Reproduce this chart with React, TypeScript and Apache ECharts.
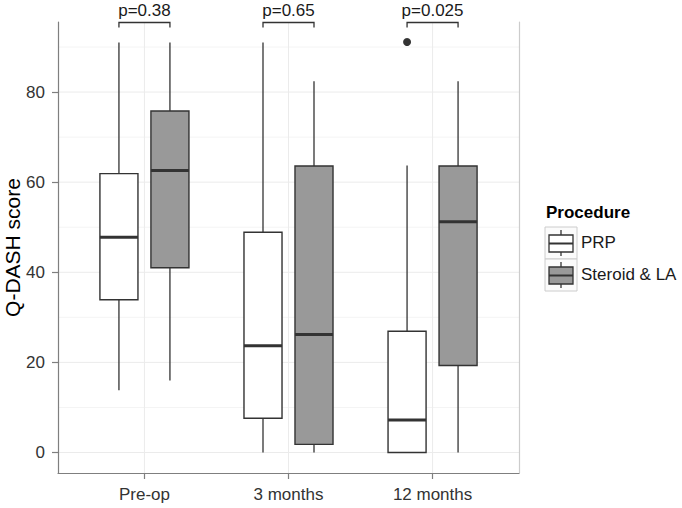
import React, { useEffect, useRef } from 'react';
import * as echarts from 'echarts';

// ---- data ----
const categories = ['Pre-op', '3 months', '12 months'];
const groups = ['PRP', 'Steroid & LA'];
// [lower whisker, Q1, median, Q3, upper whisker]
const prpStats = [
  [13.8, 33.9, 47.8, 61.9, 91.0],
  [0, 7.6, 23.7, 48.9, 91.0],
  [0, 0, 7.2, 26.9, 63.7],
];
const steroidStats = [
  [16.0, 41.0, 62.6, 75.8, 91.0],
  [0, 1.8, 26.2, 63.6, 82.4],
  [0, 19.3, 51.2, 63.6, 82.4],
];
// [category index, value]
const prpOutliers = [[2, 91.1]];
const pLabels = ['p=0.38', 'p=0.65', 'p=0.025'];
const yTicks = [0, 20, 40, 60, 80];
const yMinorTicks = [10, 30, 50, 70, 90];
const yRange = [-4.55, 95.55];
const xRange = [0.4, 3.6];

// ---- style / layout ----
const FONT = 'Liberation Sans, Arial, Helvetica, sans-serif';
const DODGE = 0.177;
const HALF_BOX = 0.132;
const fills = ['#ffffff', '#999999'];
const LINE = '#333333';

function hLine(values: number[], color: string): any {
  return {
    type: 'custom',
    silent: true,
    z: 0,
    data: values.map((v) => [xRange[0], v]),
    renderItem: (params: any, api: any) => {
      const v = api.value(1);
      const a = api.coord([xRange[0], v]);
      const b = api.coord([xRange[1], v]);
      return { type: 'line', shape: { x1: a[0], y1: a[1], x2: b[0], y2: b[1] }, style: { stroke: color, lineWidth: 1 } };
    },
  };
}

function gridSeries(): any[] {
  return [
    hLine(yMinorTicks, '#f4f4f4'),
    hLine(yTicks, '#ebebeb'),
    {
      type: 'custom',
      silent: true,
      z: 0,
      data: categories.map((c, i) => [i + 1, yRange[0]]),
      renderItem: (params: any, api: any) => {
        const x = api.value(0);
        const a = api.coord([x, yRange[0]]);
        const b = api.coord([x, yRange[1]]);
        return { type: 'line', shape: { x1: a[0], y1: a[1], x2: b[0], y2: b[1] }, style: { stroke: '#ebebeb', lineWidth: 1 } };
      },
    },
  ];
}

function boxSeries(name: string, stats: number[][], dodge: number, fill: string): any {
  return {
    type: 'custom',
    name,
    z: 2,
    data: stats.map((s, i) => [i + 1, ...s]),
    encode: { x: 0, y: [1, 2, 3, 4, 5] },
    renderItem: (params: any, api: any) => {
      const x = api.value(0) + dodge;
      const lo = api.value(1), q1 = api.value(2), med = api.value(3), q3 = api.value(4), hi = api.value(5);
      const pLo = api.coord([x, lo]);
      const pQ1 = api.coord([x, q1]);
      const pMed = api.coord([x, med]);
      const pQ3 = api.coord([x, q3]);
      const pHi = api.coord([x, hi]);
      const hw = api.size([HALF_BOX, 0])[0];
      const cx = pMed[0];
      return {
        type: 'group',
        children: [
          { type: 'line', shape: { x1: cx, y1: pHi[1], x2: cx, y2: pQ3[1] }, style: { stroke: LINE, lineWidth: 1.3 } },
          { type: 'line', shape: { x1: cx, y1: pQ1[1], x2: cx, y2: pLo[1] }, style: { stroke: LINE, lineWidth: 1.3 } },
          { type: 'rect', shape: { x: cx - hw, y: pQ3[1], width: 2 * hw, height: pQ1[1] - pQ3[1] }, style: { fill, stroke: LINE, lineWidth: 1.4 } },
          { type: 'line', shape: { x1: cx - hw, y1: pMed[1], x2: cx + hw, y2: pMed[1] }, style: { stroke: LINE, lineWidth: 3 } },
        ],
      };
    },
  };
}

function bracketSeries(): any {
  return {
    type: 'custom',
    silent: true,
    z: 3,
    clip: false,
    data: categories.map((c, i) => [i + 1, yRange[1]]),
    renderItem: (params: any, api: any) => {
      const x = api.value(0);
      const top = params.coordSys.y;
      const l = api.coord([x - DODGE, yRange[1]])[0];
      const r = api.coord([x + DODGE, yRange[1]])[0];
      return {
        type: 'group',
        children: [
          { type: 'polyline', shape: { points: [[l, top + 5.5], [l, top + 0.5], [r, top + 0.5], [r, top + 5.5]] }, style: { stroke: LINE, lineWidth: 1.3, fill: 'none' } },
          {
            type: 'text',
            style: {
              text: pLabels[params.dataIndex],
              x: (l + r) / 2,
              y: top - 12,
              align: 'center',
              verticalAlign: 'middle',
              fontSize: 17,
              fontFamily: FONT,
              fill: '#1a1a1a',
            },
          },
        ],
      };
    },
  };
}

function legendGraphic(): any[] {
  const els: any[] = [
    {
      type: 'text',
      left: 546,
      top: 204,
      style: { text: 'Procedure', fontSize: 17, fontWeight: 'bold', fontFamily: FONT, fill: '#000' },
    },
  ];
  groups.forEach((g, i) => {
    const top = 227 + i * 32;
    els.push({ type: 'rect', shape: { x: 545, y: top, width: 32, height: 32 }, style: { fill: '#fbfbfb', stroke: '#cccccc', lineWidth: 1 } });
    els.push({ type: 'line', shape: { x1: 561, y1: top + 3, x2: 561, y2: top + 29 }, style: { stroke: LINE, lineWidth: 1.3 } });
    els.push({ type: 'rect', shape: { x: 549, y: top + 8, width: 24, height: 17 }, style: { fill: fills[i], stroke: LINE, lineWidth: 1.3 } });
    els.push({ type: 'line', shape: { x1: 549, y1: top + 16.5, x2: 573, y2: top + 16.5 }, style: { stroke: LINE, lineWidth: 2 } });
    els.push({
      type: 'text',
      left: 581,
      top: top + 7,
      style: { text: g, fontSize: 17, fontFamily: FONT, fill: '#1a1a1a' },
    });
  });
  return els;
}

export default function App() {
  const ref = useRef<HTMLDivElement>(null);
  useEffect(() => {
    if (!ref.current) return;
    const chart = echarts.init(ref.current, undefined, { renderer: 'svg' });
    const option: any = {
      animation: false,
      backgroundColor: '#ffffff',
      grid: { left: 58, right: 163, top: 22, bottom: 35, containLabel: false, outerBoundsMode: 'none' },
      xAxis: {
        type: 'value',
        min: xRange[0],
        max: xRange[1],
        axisLine: { show: true, onZero: false, lineStyle: { color: '#7f7f7f', width: 1.2 } },
        axisTick: { show: true, length: 6, customValues: [1, 2, 3], lineStyle: { color: '#7f7f7f', width: 1.2 } },
        axisLabel: {
          customValues: [1, 2, 3],
          formatter: (v: number) => categories[Math.round(v) - 1] ?? '',
          margin: 13,
          fontSize: 17,
          fontFamily: FONT,
          color: '#333333',
        },
        splitLine: { show: false },
      },
      yAxis: [
        {
          type: 'value',
          min: yRange[0],
          max: yRange[1],
          name: 'Q-DASH score',
          nameLocation: 'middle',
          nameRotate: 90,
          nameGap: 35,
          nameMoveOverlap: false,
          nameTextStyle: { fontSize: 21, fontFamily: FONT, color: '#000' },
          axisLine: { show: true, onZero: false, lineStyle: { color: '#7f7f7f', width: 1.2 } },
          axisTick: { show: true, length: 6, customValues: yTicks, lineStyle: { color: '#7f7f7f', width: 1.2 } },
          axisLabel: { customValues: yTicks, margin: 13, fontSize: 17, fontFamily: FONT, color: '#333333' },
          splitLine: { show: false },
        },
        {
          type: 'value',
          position: 'right',
          min: yRange[0],
          max: yRange[1],
          axisLine: { show: true, onZero: false, lineStyle: { color: '#cccccc', width: 1.2 } },
          axisTick: { show: false },
          axisLabel: { show: false },
          splitLine: { show: false },
        },
      ],
      graphic: legendGraphic(),
      series: [
        ...gridSeries(),
        boxSeries(groups[0], prpStats, -DODGE, fills[0]),
        boxSeries(groups[1], steroidStats, DODGE, fills[1]),
        {
          type: 'scatter',
          name: groups[0] + ' outliers',
          z: 4,
          symbolSize: 8,
          itemStyle: { color: '#000' },
          data: prpOutliers.map((o) => [o[0] + 1 - DODGE, o[1]]),
        },
        bracketSeries(),
      ],
    };
    chart.setOption(option);
    return () => chart.dispose();
  }, []);
  return <div ref={ref} style={{ position: 'fixed', left: 0, top: 0, width: 682, height: 508 }} />;
}
